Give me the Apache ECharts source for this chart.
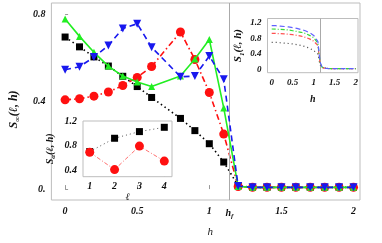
<!DOCTYPE html>
<html><head><meta charset="utf-8">
<script src="https://cdn.jsdelivr.net/npm/echarts@6/dist/echarts.min.js"></script>
<style>html,body{margin:0;padding:0;background:#fff}#c{width:382px;height:243px}</style>
</head><body><div id="c"></div>
<script>
// ---- main panel data ----
const hMain = [0,0.1,0.2,0.3,0.4,0.5,0.6,0.8,0.9,1.0,1.1,1.2,1.3,1.4,1.5,1.6,1.7,1.8,1.9,2.0];
const sInfBlack = [0.697,0.652,0.606,0.564,0.517,0.470,0.420,0.324,0.268,0.208,0.124,0.016,0.008,0.008,0.008,0.008,0.008,0.008,0.008,0.008];
const sInfRed   = [0.409,0.414,0.426,0.445,0.475,0.512,0.562,0.720,0.594,0.443,0.252,0.012,0.008,0.008,0.008,0.008,0.008,0.008,0.008,0.008];
const sInfBlue  = [0.547,0.561,0.605,0.658,0.736,0.758,0.650,0.515,0.518,0.610,0.503,0.014,0.008,0.008,0.008,0.008,0.008,0.008,0.008,0.008];
const sInfGreen = [0.780,0.700,0.627,0.564,0.518,0.491,0.470,0.518,0.596,0.686,0.372,0.012,0.008,0.008,0.008,0.008,0.008,0.008,0.008,0.008];
const hF = 1.14;
const mainXTicks = [0,0.5,1,1.14,1.5,2];
const mainYTicks = [0,0.4,0.8];
// ---- lower-left inset ----
const ells = [1,2,3,4];
const sAlphaBlack = [0.70,0.918,1.027,1.097];
const sAlphaRed   = [0.69,0.406,0.790,0.545];
const inset1YTicks = [0.4,0.8,1.2];
// ---- upper-right inset ----
const hInset = [0,0.1,0.2,0.3,0.4,0.5,0.6,0.7,0.8,0.9,1.0,1.1,1.15,1.2,1.3,1.4,1.5,1.6,1.7,1.8,1.9,2.0];
const s1Blue  = [1.13,1.13,1.12,1.11,1.10,1.08,1.06,1.03,1.00,0.95,0.88,0.72,0.20,0.06,0.03,0.02,0.02,0.02,0.02,0.02,0.02,0.02];
const s1Green = [1.045,1.04,1.035,1.03,1.02,1.00,0.98,0.96,0.93,0.88,0.82,0.68,0.18,0.06,0.03,0.02,0.02,0.02,0.02,0.02,0.02,0.02];
const s1Red   = [0.93,0.93,0.925,0.92,0.91,0.90,0.88,0.86,0.83,0.79,0.73,0.62,0.17,0.05,0.03,0.02,0.02,0.02,0.02,0.02,0.02,0.02];
const s1Black = [0.70,0.70,0.69,0.68,0.67,0.66,0.64,0.62,0.59,0.55,0.49,0.40,0.12,0.05,0.03,0.02,0.02,0.02,0.02,0.02,0.02,0.02];
const inset2XTicks = [0,0.5,1,1.5,2];
const inset2YTicks = [0,0.4,0.8,1.2];
const hF2 = 1.15;

const pair = (xs, ys) => xs.map((x,i)=>[x, ys[i]]);
const FF = 'Liberation Serif';
const base = {fontFamily:FF, fontStyle:'italic', fontWeight:'bold', color:'#111'};
function subRich(size){
  return {
    s:Object.assign({}, base, {fontSize:size, lineHeight:size+4, verticalAlign:'middle'}),
    sub:Object.assign({}, base, {fontSize:Math.round(size*0.65), lineHeight:Math.round(size*0.6), verticalAlign:'bottom'})
  };
}
const frame = {show:true, borderColor:'#bdbdbd', borderWidth:1, backgroundColor:'#fff'};
const tickStyle = {lineStyle:{color:'#999', width:1}};

const chart = echarts.init(document.getElementById('c'), null, {renderer:'canvas'});
chart.setOption({
  animation:false,
  backgroundColor:'#fff',
  grid:[
    Object.assign({left:39, top:3, width:321, height:198.7, z:0}, frame),
    Object.assign({left:83, top:121, width:89, height:55.7, z:5}, frame),
    Object.assign({left:267.5, top:18.5, width:90.5, height:54.2, z:5}, frame)
  ],
  xAxis:[
    {gridIndex:0, type:'value', min:-0.095, max:2.045,
     axisLine:{show:false}, splitLine:{show:false},
     axisTick:Object.assign({show:true, inside:true, length:4, customValues:[0,0.5,1,1.5,2]}, tickStyle),
     axisLabel:{customValues:mainXTicks, margin:6, fontSize:10, fontFamily:FF, fontStyle:'italic', fontWeight:'bold', color:'#111',
       formatter:v=> Math.abs(v-hF)<1e-6 ? '{s|h}{sub|f}' : String(v),
       rich:subRich(10)},
     name:'h', nameLocation:'middle', nameGap:27,
     nameTextStyle:{fontFamily:FF, fontStyle:'italic', fontSize:11, color:'#222', padding:[0,0,0,9]}},
    {gridIndex:1, type:'value', min:0.73, max:4.31,
     axisLine:{show:false}, splitLine:{show:false},
     axisTick:Object.assign({show:true, inside:true, length:3, customValues:ells}, tickStyle),
     axisLabel:{customValues:ells, margin:5, fontSize:10, fontFamily:FF, fontStyle:'italic', fontWeight:'bold', color:'#111'},
     name:'ℓ', nameLocation:'middle', nameGap:14,
     nameTextStyle:{fontFamily:FF, fontStyle:'italic', fontSize:10, color:'#222'}},
    {gridIndex:2, type:'value', min:-0.1, max:2.055,
     axisLine:{show:false}, splitLine:{show:false},
     axisTick:Object.assign({show:true, inside:true, length:2, customValues:inset2XTicks}, tickStyle),
     axisLabel:{customValues:inset2XTicks, margin:5, fontSize:9, fontFamily:FF, fontStyle:'italic', fontWeight:'bold', color:'#111'},
     name:'h', nameLocation:'middle', nameGap:22,
     nameTextStyle:{fontFamily:FF, fontStyle:'italic', fontWeight:'bold', fontSize:10, color:'#111'}}
  ],
  yAxis:[
    {gridIndex:0, type:'value', min:-0.05, max:0.853,
     axisLine:{show:false}, splitLine:{show:false},
     axisTick:Object.assign({show:true, inside:true, length:3, customValues:mainYTicks}, tickStyle),
     axisLabel:{customValues:mainYTicks, margin:6, fontSize:10, fontFamily:FF, fontStyle:'italic', fontWeight:'bold', color:'#111',
       formatter:v=> v===0 ? '0.' : String(v)},
     name:'{s|S}{sub|∞}{s|(ℓ, h)}', nameLocation:'middle', nameGap:22, nameRotate:90,
     nameTextStyle:{rich:subRich(12), padding:[0,0,0,-16]}},
    {gridIndex:1, type:'value', min:0.29, max:1.2,
     axisLine:{show:false}, splitLine:{show:false},
     axisTick:Object.assign({show:true, inside:true, length:3, customValues:inset1YTicks}, tickStyle),
     axisLabel:{customValues:inset1YTicks, margin:6, fontSize:10, fontFamily:FF, fontStyle:'italic', fontWeight:'bold', color:'#111'},
     name:'{s|S}{sub|α}{s|(ℓ, h)}', nameLocation:'middle', nameGap:26, nameRotate:90,
     nameTextStyle:{rich:subRich(10)}},
    {gridIndex:2, type:'value', min:-0.083, max:1.316,
     axisLine:{show:false}, splitLine:{show:false},
     axisTick:Object.assign({show:true, inside:true, length:2, customValues:inset2YTicks}, tickStyle),
     axisLabel:{customValues:inset2YTicks, margin:6, fontSize:9, fontFamily:FF, fontStyle:'italic', fontWeight:'bold', color:'#111'},
     name:'{s|S}{sub|1}{s|(ℓ, h)}', nameLocation:'middle', nameGap:22, nameRotate:90,
     nameTextStyle:{rich:subRich(11)}}
  ],
  series:[
    {type:'line', xAxisIndex:0, yAxisIndex:0, data:pair(hMain, sInfBlack), z:3,
     symbol:'rect', symbolSize:7, itemStyle:{color:'#000'},
     lineStyle:{color:'#000', width:1.6, type:[1.5,3]},
     markLine:{silent:true, symbol:'none', label:{show:false}, lineStyle:{color:'#aaa', width:1, type:'solid'},
       data:[{xAxis:hF}]}},
    {type:'line', xAxisIndex:0, yAxisIndex:0, data:pair(hMain, sInfRed), z:4,
     symbol:'circle', symbolSize:9, itemStyle:{color:'#ff1010'},
     lineStyle:{color:'#ff1010', width:1.6, type:[6,3,1.5,3]}},
    {type:'line', xAxisIndex:0, yAxisIndex:0, data:pair(hMain, sInfGreen), z:5,
     symbol:'triangle', symbolSize:7, itemStyle:{color:'#22ee22'},
     lineStyle:{color:'#22ee22', width:1.6, type:'solid'}},
    {type:'line', xAxisIndex:0, yAxisIndex:0, data:pair(hMain, sInfBlue), z:6,
     symbol:'triangle', symbolRotate:180, symbolSize:8, itemStyle:{color:'#1818ee'},
     lineStyle:{color:'#1818ee', width:1.6, type:[6,4]}},
    // inset 1
    {type:'line', xAxisIndex:1, yAxisIndex:1, data:pair(ells, sAlphaBlack), z:7,
     symbol:'rect', symbolSize:7, itemStyle:{color:'#000'},
     lineStyle:{color:'#555', width:1, type:[1,3]}},
    {type:'line', xAxisIndex:1, yAxisIndex:1, data:pair(ells, sAlphaRed), z:8,
     symbol:'circle', symbolSize:9, itemStyle:{color:'#ff1010'},
     lineStyle:{color:'#ff7070', width:1, type:[4,2,1,2]}},
    // inset 2
    {type:'line', xAxisIndex:2, yAxisIndex:2, data:pair(hInset, s1Black), z:7, showSymbol:false, symbol:'none',
     lineStyle:{color:'#444', width:1.2, type:[1,3]},
     markLine:{silent:true, symbol:'none', label:{show:false}, lineStyle:{color:'#aaa', width:1, type:'solid'},
       data:[{xAxis:hF2}]}},
    {type:'line', xAxisIndex:2, yAxisIndex:2, data:pair(hInset, s1Red), z:7, symbol:'none',
     lineStyle:{color:'#ff5050', width:1.2, type:[4,2,1,2]}},
    {type:'line', xAxisIndex:2, yAxisIndex:2, data:pair(hInset, s1Green), z:7, symbol:'none',
     lineStyle:{color:'#33dd33', width:1.2, type:[4,2,1,2]}},
    {type:'line', xAxisIndex:2, yAxisIndex:2, data:pair(hInset, s1Blue), z:7, symbol:'none',
     lineStyle:{color:'#6060ff', width:1.2, type:[5,3]}}
  ]
});
</script>
</body></html>
